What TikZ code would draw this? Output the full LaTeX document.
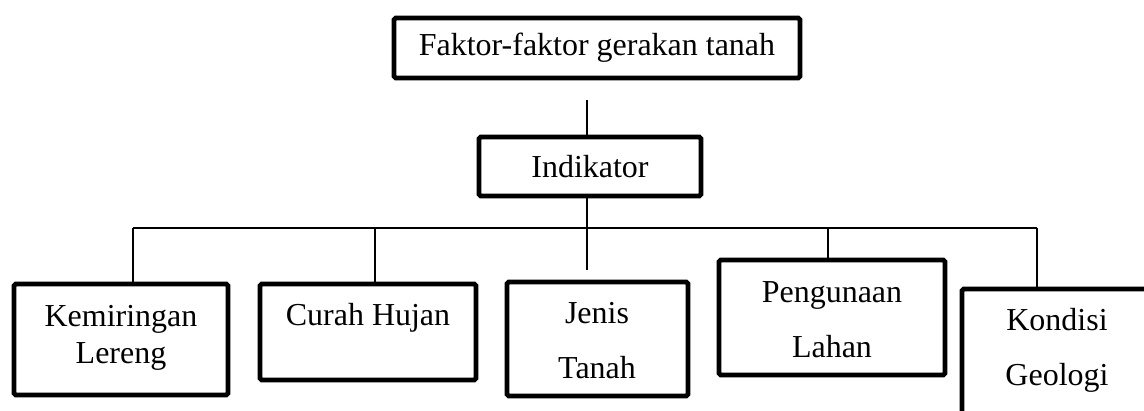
\documentclass[tikz,border=0pt]{standalone}
\usepackage{fontspec}
\setmainfont{Liberation Serif}
\usetikzlibrary{positioning}

\tikzset{
  box/.style={draw, line width=2.7pt, rounded corners=1pt, inner sep=0pt,
    font=\fontsize{18.2}{31.3}\selectfont},
  txt/.style={align=center, anchor=base, inner sep=0pt,
    font=\fontsize{18.2}{31.3}\selectfont},
  link/.style={line width=0.75pt}
}

\begin{document}
\begin{tikzpicture}[x=0.02cm, y=-0.02cm]
    \clip (0,0) rectangle (1144,410);
    % top and middle level
    \node[box, minimum width=8.12cm, minimum height=1.2cm] (top) at (597,48) {Faktor-faktor gerakan tanah};
    \node[box, minimum width=4.44cm, minimum height=1.18cm] (ind) at (590,166.5) {Indikator};
    % the five indicators
    \node[box, minimum width=4.28cm, minimum height=2.22cm] (kem) at (121,339.5) {};
    \node[box, minimum width=4.32cm, minimum height=1.92cm] (cur) at (368,332) {};
    \node[box, minimum width=3.62cm, minimum height=2.28cm] (jen) at (597.5,339) {};
    \node[box, minimum width=4.52cm, minimum height=2.3cm] (pen) at (832,317.5) {};
    \node[box, minimum width=3.8cm, minimum height=2.62cm] (kon) at (1057,354.5) {};
    % base = last line
    \node[txt, font=\fontsize{18.2}{20.5}\selectfont] (kemtxt) at (121,363) {Kemiringan\\Lereng};
    \node[txt] (curtxt) at (368,325) {Curah Hujan};
    \node[txt] (jentxt) at (597,378) {Jenis\\Tanah};
    \node[txt] (pentxt) at (832,357) {Pengunaan\\Lahan};
    \node[txt] (kontxt) at (1057,385) {Kondisi\\Geologi};
    % connectors
    \coordinate (upper) at (587,100);
    \draw[link] (upper) -- (upper |- ind.north);
    \coordinate (lower) at (587,270);
    \draw[link] (lower |- ind.south) -- (lower);
    \coordinate (busL) at (133,228);
    \coordinate (busR) at (1037,228);
    \draw[link] (busL) -- (busR);
    \foreach \x/\b in {133/kem, 375/cur, 828/pen, 1037/kon}
    {
      \coordinate (drop) at (\x,228);
      \draw[link] (drop) -- (drop |- \b.north);
    }
\end{tikzpicture}
\end{document}
